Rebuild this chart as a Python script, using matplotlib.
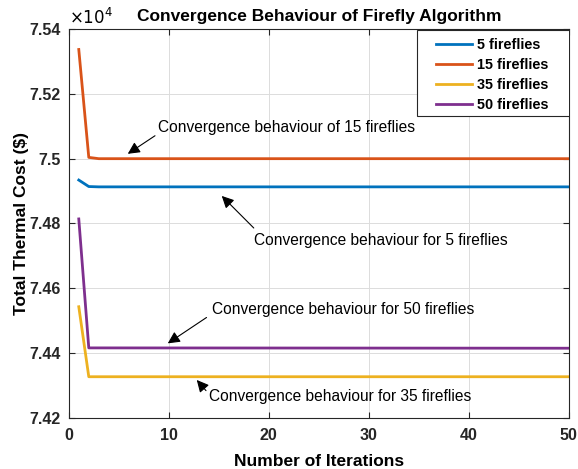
import matplotlib
matplotlib.use("Agg")
import matplotlib.pyplot as plt
from matplotlib.patches import Rectangle

plt.rcParams['font.family'] = ['Liberation Sans', 'DejaVu Sans']

iterations = [1, 2, 3, 50]
cost_5 = [74934, 74914, 74913, 74913]
cost_15 = [75337, 75004, 75000, 75000]
cost_35 = [74543, 74327, 74327, 74327]
cost_50 = [74814, 74416, 74416, 74415]
labels = ['5 fireflies', '15 fireflies', '35 fireflies', '50 fireflies']
colors = ['#0072BD', '#D95319', '#EDB120', '#7E2F8E']

yticks = [74200, 74400, 74600, 74800, 75000, 75200, 75400]
yticklabels = ['7.42', '7.44', '7.46', '7.48', '7.5', '7.52', '7.54']
xticks = [0, 10, 20, 30, 40, 50]

fig = plt.figure(figsize=(5.78, 4.69), dpi=100)
ax = fig.add_axes([0.119, 0.109, 0.865, 0.829])

for y, lab, c in zip([cost_5, cost_15, cost_35, cost_50], labels, colors):
    ax.plot(iterations, y, color=c, lw=2, label=lab)

ax.set_xlim(0, 50)
ax.set_ylim(74200, 75400)
ax.set_xticks(xticks)
ax.set_xticklabels([str(t) for t in xticks], fontsize=11.5, fontweight='bold')
ax.set_yticks(yticks)
ax.set_yticklabels(yticklabels, fontsize=11.5, fontweight='bold')
ax.grid(True, color='#dcdcdc', lw=0.7)
ax.set_axisbelow(True)
for s in ax.spines.values():
    s.set_color('#262626')
    s.set_linewidth(0.8)
ax.tick_params(direction='in', length=4, colors='#262626', top=True, right=True)
ax.tick_params(axis='x', pad=7)
ax.tick_params(axis='y', pad=6)

ax.set_xlabel('Number of Iterations', fontsize=12.5, fontweight='bold', labelpad=8)
ax.set_ylabel('Total Thermal Cost ($)', fontsize=12.5, fontweight='bold', labelpad=0)
ax.set_title('Convergence Behaviour of Firefly Algorithm', fontsize=12.5, fontweight='bold', pad=6)
ax.text(0, 1.005, r'$\times10^4$', transform=ax.transAxes, fontsize=12, ha='left', va='bottom')

# legend frame drawn separately (MATLAB-style wide padding)
ax.add_patch(Rectangle((0.696, 0.776), 0.306, 0.221, transform=ax.transAxes,
                       facecolor='white', edgecolor='#262626', lw=0.8, zorder=4))
leg = ax.legend(loc='upper left', bbox_to_anchor=(0.734, 0.978), frameon=False,
                prop={'weight': 'bold', 'size': 10.4},
                handlelength=2.5, handletextpad=0.35, borderpad=0, borderaxespad=0,
                labelspacing=0.42)
leg.set_zorder(5)

arrowprops = dict(arrowstyle='-|>', color='black', lw=0.8, mutation_scale=18)
fs = 11.2
ax.annotate('Convergence behaviour of 15 fireflies', xy=(5.9, 75015), xytext=(8.9, 75095),
            fontsize=fs, va='center', ha='left',
            arrowprops=dict(arrowprops, shrinkA=0, shrinkB=0, relpos=(0, 0.1)))
ax.annotate('Convergence behaviour for 5 fireflies', xy=(15.3, 74885), xytext=(18.5, 74749),
            fontsize=fs, va='center', ha='left',
            arrowprops=dict(arrowprops, shrinkA=0, shrinkB=0, relpos=(0, 1.3)))
ax.annotate('Convergence behaviour for 50 fireflies', xy=(9.9, 74430), xytext=(14.3, 74533),
            fontsize=fs, va='center', ha='left',
            arrowprops=dict(arrowprops, shrinkA=0, shrinkB=0, relpos=(-0.02, 0.0)))
ax.annotate('Convergence behaviour for 35 fireflies', xy=(12.8, 74317), xytext=(14.0, 74265),
            fontsize=fs, va='center', ha='left',
            arrowprops=dict(arrowprops, shrinkA=0, shrinkB=0, relpos=(-0.01, 0.9)))

fig.savefig('out.png', dpi=100)
